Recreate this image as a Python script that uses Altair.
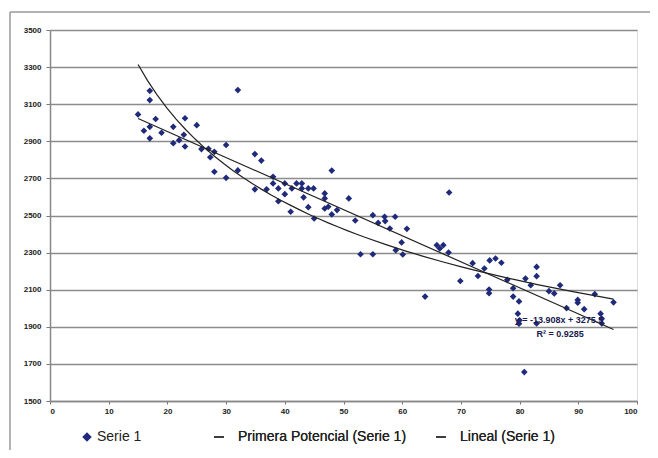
import altair as alt
import pandas as pd

# ---- data ----
xs = [15.0, 16.0, 17.0, 17.0, 17.0, 17.0, 18.0, 19.0, 21.0, 21.0, 22.0, 22.8, 23.0, 23.0, 25.0,
      25.8, 27.0, 27.3, 28.0, 28.0, 30.0, 30.0, 32.0, 32.0, 34.9, 34.9, 36.0, 36.9, 38.0, 38.0,
      38.9, 38.9, 40.0, 40.0, 41.0, 41.2, 42.0, 42.9, 42.9, 43.2, 44.0, 44.0, 44.9, 45.0, 46.8,
      46.8, 46.8, 47.4, 48.0, 48.0, 48.9, 50.9, 52.0, 52.9, 55.0, 55.0, 55.9, 57.0, 57.1, 57.9,
      58.8, 58.9, 59.9, 60.1, 60.8, 63.9, 65.9, 66.4, 67.0, 67.9, 68.0, 69.9, 72.0, 72.9, 74.0,
      74.9, 75.9, 76.9, 74.8, 74.8, 77.9, 78.9, 78.9, 79.9, 79.7, 80.0, 79.9, 80.8, 81.0, 81.9,
      82.9, 82.9, 82.9, 85.0, 85.9, 86.9, 88.0, 89.9, 89.9, 91.0, 92.8, 93.8, 94.0, 94.0, 96.0]
ys = [3045, 2957, 3172, 3122, 2978, 2916, 3020, 2946, 2978, 2890, 2906, 2935, 3024, 2872, 2987,
      2858, 2860, 2814, 2843, 2736, 2880, 2703, 3176, 2743, 2831, 2641, 2796, 2641, 2709, 2673,
      2646, 2577, 2673, 2615, 2520, 2646, 2673, 2673, 2646, 2598, 2646, 2545, 2646, 2484, 2619,
      2592, 2538, 2547, 2742, 2506, 2529, 2592, 2473, 2291, 2291, 2502, 2460, 2493, 2470, 2430,
      2493, 2313, 2355, 2290, 2428, 2063, 2340, 2322, 2340, 2300, 2624, 2147, 2243, 2174, 2214,
      2258, 2268, 2245, 2101, 2081, 2153, 2108, 2063, 2037, 1971, 1935, 1917, 1656, 2160, 2124,
      2223, 2173, 1918, 2092, 2080, 2124, 2001, 2045, 2030, 1995, 2076, 1971, 1944, 1918, 2032]

point_series = ["Serie 1"]
trend_series = ["Primera Potencial (Serie 1)", "Lineal (Serie 1)"]
x_ticks = [0, 10, 20, 30, 40, 50, 60, 70, 80, 90, 100]
y_ticks = [1500, 1700, 1900, 2100, 2300, 2500, 2700, 2900, 3100, 3300, 3500]
eq_texts = ["y = -13.908x + 3275.5", "R² = 0.9285"]
eq_x = [86.7, 86.9]
eq_y = [1935, 1860]

df = pd.DataFrame({"x": xs, "y": ys, "series": ["Serie 1"] * len(xs)})
eq_df = pd.DataFrame({"x": eq_x, "y": eq_y, "t": eq_texts})

FONT = "Liberation Sans"
xscale = alt.Scale(domain=[0, 100], nice=False, zero=False)
yscale = alt.Scale(domain=[1500, 3500], nice=False, zero=False)

xaxis = alt.Axis(values=x_ticks, format="d", grid=False, ticks=True, tickSize=3, tickColor="#777",
                 domainColor="#888", domainWidth=1.5, labelFont=FONT, labelFontSize=8,
                 labelFontWeight="bold", labelColor="#222", labelPadding=3, labelOverlap=False)
yaxis = alt.Axis(values=y_ticks, format="d", grid=True, gridColor="#8c8c8c", gridWidth=1.6,
                 ticks=True, tickSize=4, tickColor="#777", domainColor="#888", domainWidth=1.5,
                 labelFont=FONT, labelFontSize=8, labelFontWeight="bold", labelColor="#222",
                 labelPadding=5, labelOverlap=False)

X = alt.X("x:Q", scale=xscale, axis=xaxis, title="")
Y = alt.Y("y:Q", scale=yscale, axis=yaxis, title="")

leg_pts = alt.Legend(title=None, orient="none", legendX=30, legendY=400, direction="horizontal",
                     labelFont=FONT, labelFontSize=14, labelColor="#222", symbolSize=90,
                     symbolType="diamond", labelOffset=3)
leg_lines = alt.Legend(title=None, orient="none", legendX=162, legendY=400, direction="horizontal",
                       labelFont=FONT, labelFontSize=14, labelColor="#222", symbolSize=100,
                       symbolType="stroke", symbolStrokeWidth=1.3, labelOffset=12,
                       columnPadding=26, labelLimit=400)

points = alt.Chart(df).mark_point(filled=True, size=44, opacity=1, shape="diamond").encode(
    x=X, y=Y,
    color=alt.Color("series:N", scale=alt.Scale(domain=point_series, range=["#1f2a7a"]),
                    legend=leg_pts),
)

stroke_scale = alt.Scale(domain=trend_series, range=["#222222", "#222222"])

pow_line = alt.Chart(df).transform_regression("x", "y", method="pow").transform_calculate(
    name="'" + trend_series[0] + "'").mark_line(strokeWidth=1.2).encode(
    x=X, y=Y, stroke=alt.Stroke("name:N", scale=stroke_scale, legend=leg_lines))
lin_line = alt.Chart(df).transform_regression("x", "y", method="linear").transform_calculate(
    name="'" + trend_series[1] + "'").mark_line(strokeWidth=1.2).encode(
    x=X, y=Y, stroke=alt.Stroke("name:N", scale=stroke_scale, legend=leg_lines))

eq = alt.Chart(eq_df).mark_text(font=FONT, fontSize=9, fontWeight="bold", color="#1a1a50").encode(
    x=X, y=Y, text="t:N")

one = pd.DataFrame({"a": [0]})
frame_left = alt.Chart(one).mark_rule(color="#9a9a9a", strokeWidth=1.5).encode(
    x=alt.value(-40), y=alt.value(-18), y2=alt.value(440))
frame_top = alt.Chart(one).mark_rule(color="#9a9a9a", strokeWidth=1.5).encode(
    x=alt.value(-40), x2=alt.value(620), y=alt.value(-18))

chart = alt.layer(points, pow_line, lin_line, eq, frame_left, frame_top).properties(
    width=587, height=371,
    padding={"left": 42, "top": 22, "right": 13, "bottom": 49},
    autosize=alt.AutoSizeParams(type="none"),
).resolve_legend(color="independent", stroke="independent").configure_view(
    strokeWidth=0).configure_axis(labelOverlap=False).configure(background="white")

chart.save("out.html", embed_options={"renderer": "svg", "actions": False})
